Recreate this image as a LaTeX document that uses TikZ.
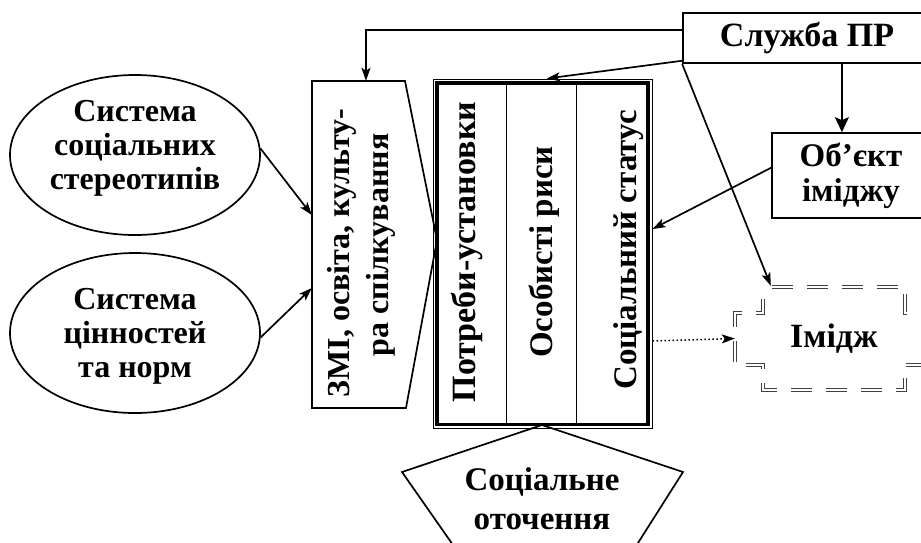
\documentclass[tikz,border=0pt]{standalone}
\usepackage{fontspec}
\setmainfont{Liberation Serif}
\usetikzlibrary{arrows.meta,shapes.geometric,calc}
\begin{document}
\begin{tikzpicture}[x=1pt,y=-1pt,
  ln/.style={line width=1.7pt},
  arr/.style={ln,-{Stealth[length=13pt,width=9pt,inset=3pt]}},
  bigarr/.style={ln,-{Stealth[length=15pt,width=14pt,inset=3pt]}},
  dotarr/.style={line width=1.5pt,dash pattern=on 1.5pt off 2.5pt,-{Stealth[length=13pt,width=9pt,inset=3pt]}},
  txt/.style={font=\bfseries\fontsize{33}{35}\selectfont,inner sep=0pt},
  etxt/.style={font=\bfseries\fontsize{32}{34}\selectfont,inner sep=0pt,align=center},
  box/.style={draw,ln,inner sep=0pt},
  vtxt/.style={txt,rotate=90,anchor=base},
  imline/.style={draw=black!75,line width=0.9pt,double=white,double distance=1.8pt,dash pattern=on 21pt off 14pt,dash phase=-9pt},
]
\useasboundingbox (0,0) rectangle (921,542);
\clip (0,0) rectangle (921,542);
\fill[white] (0,0) rectangle (921,542);

% ellipses
\node[ellipse,box,minimum width=250pt,minimum height=160pt] (e1) at (135,155) {};
\node[etxt] (e1t) at (135,148) {Система\\соціальних\\стереотипів};
\node[ellipse,box,minimum width=250pt,minimum height=160pt] (e2) at (135,333) {};
\node[etxt] (e2t) at (135,336) {Система\\цінностей\\та норм};

% media block
\coordinate (zA) at (312,81);
\coordinate (zB) at (405,81);
\coordinate (zT) at (437,240);
\coordinate (zC) at (406,408);
\coordinate (zD) at (312,408);
\draw[ln] (zA) -- (zB) -- (zT) -- (zC) -- (zD) -- cycle;
\node[inner sep=0pt,minimum width=93pt,minimum height=327pt] (zmi) at (358.5,244.5) {};
\node[vtxt,font=\bfseries\fontsize{32}{35}\selectfont] (z1) at (349,253) {ЗМІ, освіта, культу-};
\node[vtxt,font=\bfseries\fontsize{32}{35}\selectfont] (z2) at (388,245) {ра спілкування};

% core
\node[draw,line width=1pt,inner sep=0pt,minimum width=219pt,minimum height=349pt] (core) at (542.5,253.5) {};
\draw[line width=3.2pt] ($(core.north west)+(4.5,4.5)$) rectangle ($(core.south east)+(-4.5,-4)$);
\draw[line width=1.2pt] ($(core.north west)+(74,4.5)$) -- ($(core.south west)+(74,-4)$);
\draw[line width=1.2pt] ($(core.north west)+(144,4.5)$) -- ($(core.south west)+(144,-4)$);
\node[vtxt,font=\bfseries\fontsize{34}{36}\selectfont] (c1) at (475,252) {Потреби-установки};
\node[vtxt] (c2) at (552,252) {Особисті риси};
\node[vtxt] (c3) at (636,250) {Соціальний статус};

% right boxes
\node[box,txt,font=\bfseries\fontsize{34}{36}\selectfont,minimum width=248pt,minimum height=50pt] (sl) at (807,38) {Служба ПР};
\node[box,txt,align=center,minimum width=158pt,minimum height=85pt] (ob) at (851,175.5) {Об’єкт\\іміджу};

% image
\node[txt,font=\bfseries\fontsize{34}{36}\selectfont,minimum width=198pt,minimum height=103pt] (im) at (834,338.5) {Імідж};
\draw[imline] (763,287) -- (905,287) -- (905,313) -- (933,313) -- (933,365) -- (905,365) -- (905,390) -- (763,390) -- (763,365) -- (735,365) -- (735,313) -- (763,313) -- cycle;

% social environment
\draw[ln] (467,565) -- (402,472) -- (542,425) -- (683,472) -- (624,565);
\node[txt,align=center,font=\bfseries\fontsize{33}{39}\selectfont] (so) at (542,499) {Соціальне\\оточення};

% connectors
\draw[arr] ($(sl.north west)!0.34!(sl.south west)$) -| ($(zmi.north west)!0.58!(zmi.north east)$);
\draw[arr] ($(sl.north west)!0.94!(sl.south west)$) -- ($(core.north west)!0.52!(core.north east)$);
\draw[arr] (sl.south west) -- ($(im.north west)+(36,-1)$);
\coordinate (obin) at ($(ob.north west)!0.443!(ob.north east)$);
\draw[bigarr] (obin |- sl.south) -- (obin);
\draw[arr] ($(ob.north west)!0.41!(ob.south west)$) -- ($(core.north east)!0.43!(core.south east)$);
\draw[arr] (e1.3) -- ($(zmi.north west)!0.41!(zmi.south west)$);
\draw[arr] (e2.358) -- ($(zmi.north west)!0.633!(zmi.south west)$);
\draw[dotarr] ($(core.north east)!0.75!(core.south east)$) -- (im.west);
\end{tikzpicture}
\end{document}
